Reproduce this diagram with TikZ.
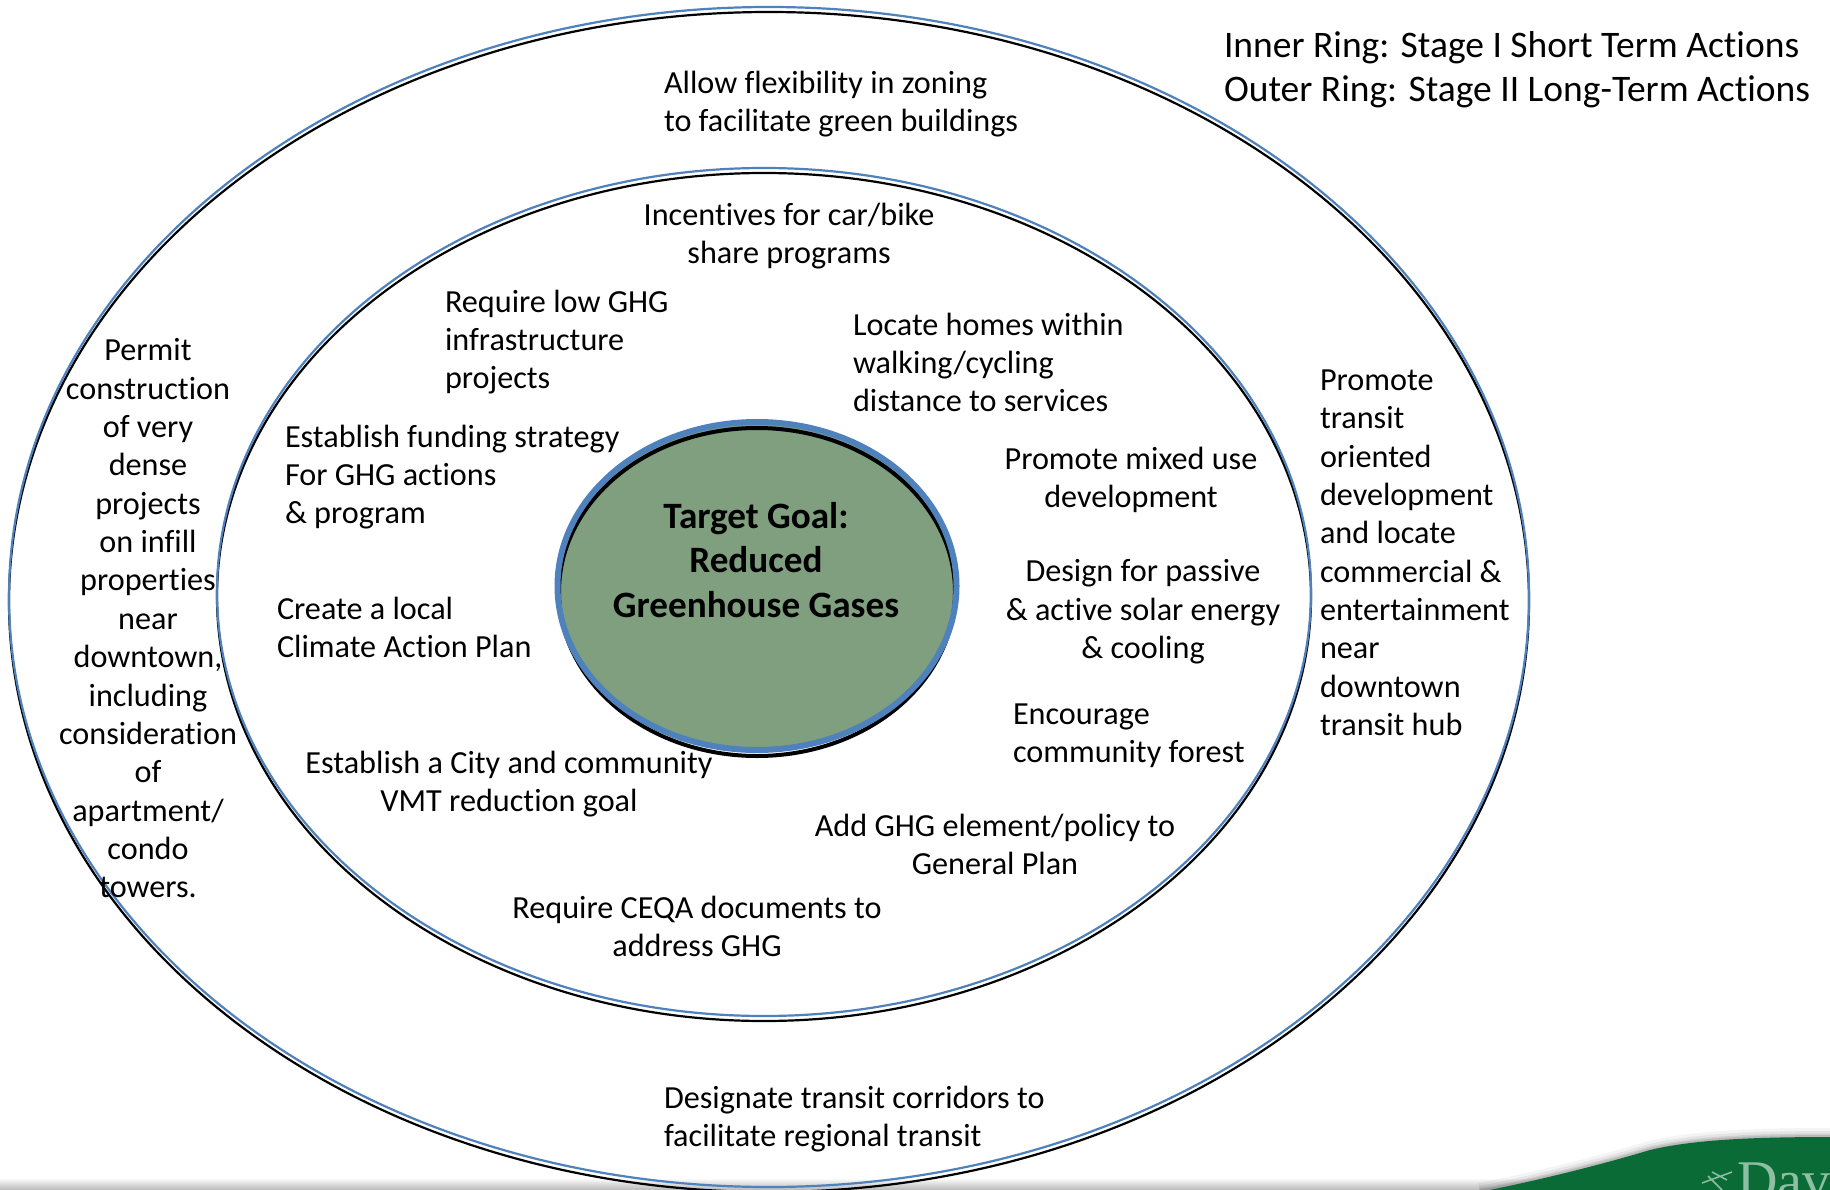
\documentclass[tikz,border=0pt]{standalone}
\usepackage{fontspec}
\setmainfont[Ligatures=NoCommon]{Carlito}
\definecolor{ringblue}{HTML}{4F81BD}
\definecolor{goalgreen}{HTML}{7F9F7F}
\definecolor{logogreen}{HTML}{0B6B37}
\definecolor{logotext}{HTML}{8FBFA3}
\tikzset{
  ringblack/.style={draw=black,line width=2.2pt},
  ringline/.style={draw=ringblue,line width=2.2pt},
  txt/.style={inner sep=0pt,outer sep=0pt,font=\fontsize{32.2}{38.35}\selectfont,yshift=20.3pt,execute at begin node=\strut},
  lblock/.style={txt,anchor=north west,align=left},
  cblock/.style={txt,anchor=north,align=center},
  legendblock/.style={inner sep=0pt,outer sep=0pt,anchor=north west,align=left,font=\fontsize{37.5}{44}\selectfont,yshift=23.9pt,execute at begin node=\strut},
  goalblock/.style={inner sep=0pt,outer sep=0pt,anchor=north,align=center,font=\fontsize{37.2}{44.3}\selectfont\bfseries,yshift=24.5pt,execute at begin node=\strut}
}
\begin{document}
\begin{tikzpicture}[x=1pt,y=-1pt]
\useasboundingbox (0,0) rectangle (1830,1190);
\clip (0,0) rectangle (1830,1190);
\fill[white] (0,0) rectangle (1830,1190);
% bottom band
\shade[top color=white,bottom color=black!28] (0,1178) rectangle (1830,1190);
% logo swoosh
\foreach \w/\o in {18/.07,12/.11,7/.16,4/.2}{
  \draw[black!60,line width=\w pt,opacity=\o]
    (1480,1192) .. controls (1540,1180) and (1600,1165) .. (1650,1150)
    .. controls (1700,1138) and (1770,1137) .. (1840,1137);
}
\fill[logogreen] (1480,1192) .. controls (1540,1180) and (1600,1165) .. (1650,1150)
    .. controls (1700,1138) and (1770,1137) .. (1840,1137) -- (1840,1200) -- cycle;
\node[inner sep=0pt,anchor=base west,text=logotext,font=\fontsize{56}{56}\selectfont] (logo) at (1737,1199) {\fontspec{Liberation Serif}Davis};
\draw[logotext,line width=1.5pt] (1702,1183) -- (1732,1172) (1708,1176) -- (1722,1190) (1712,1172) -- (1727,1180);
% rings
\draw[ringblack] (769,602) ellipse [x radius=760,y radius=590];
\draw[ringline] (769,597) ellipse [x radius=760,y radius=590];
\draw[ringblack] (764,597) ellipse [x radius=547,y radius=424];
\draw[ringline] (764,592) ellipse [x radius=547,y radius=424];
% goal
\fill[goalgreen] (757,586) ellipse [x radius=199.5,y radius=164];
\draw[black,line width=4pt] (757,592) ellipse [x radius=198,y radius=164];
\draw[ringblue,line width=6pt] (757,586) ellipse [x radius=199.5,y radius=164];
% texts
\node[goalblock] (goal) at (756,527) {Target Goal:\\Reduced\\Greenhouse Gases};
\node[legendblock] (legend) at (1224,55) {Inner Ring: Stage I Short Term Actions\\Outer Ring: Stage II Long-Term Actions};
\node[lblock] (flex) at (664,91) {Allow flexibility in zoning\\to facilitate green buildings};
\node[cblock] (share) at (789,223) {Incentives for car/bike\\share programs};
\node[lblock] (infra) at (445,310) {Require low GHG\\infrastructure\\projects};
\node[lblock] (homes) at (853,333) {Locate homes within\\walking/cycling\\distance to services};
\node[lblock] (fund) at (285,445) {Establish funding strategy\\For GHG actions\\\& program};
\node[cblock] (mixed) at (1131,467) {Promote mixed use\\development};
\node[cblock] (solar) at (1143,580) {Design for passive\\\& active solar energy\\\& cooling};
\node[lblock] (cap) at (277,617) {Create a local\\Climate Action Plan};
\node[lblock] (forest) at (1013,724) {Encourage\\community forest};
\node[cblock] (vmt) at (509,771) {Establish a City and community\\VMT reduction goal};
\node[cblock] (plan) at (995,834) {Add GHG element/policy to\\General Plan};
\node[cblock] (ceqa) at (697,916) {Require CEQA documents to\\address GHG};
\node[lblock] (corr) at (664,1106) {Designate transit corridors to\\facilitate regional transit};
\node[cblock] (dense) at (148,359) {Permit\\construction\\of very\\dense\\projects\\on infill\\properties\\near\\downtown,\\including\\consideration\\of\\apartment/\\condo\\towers.};
\node[lblock] (tod) at (1320,390) {Promote\\transit\\oriented\\development\\and locate\\commercial \&\\entertainment\\near\\downtown\\transit hub};
\end{tikzpicture}
\end{document}
